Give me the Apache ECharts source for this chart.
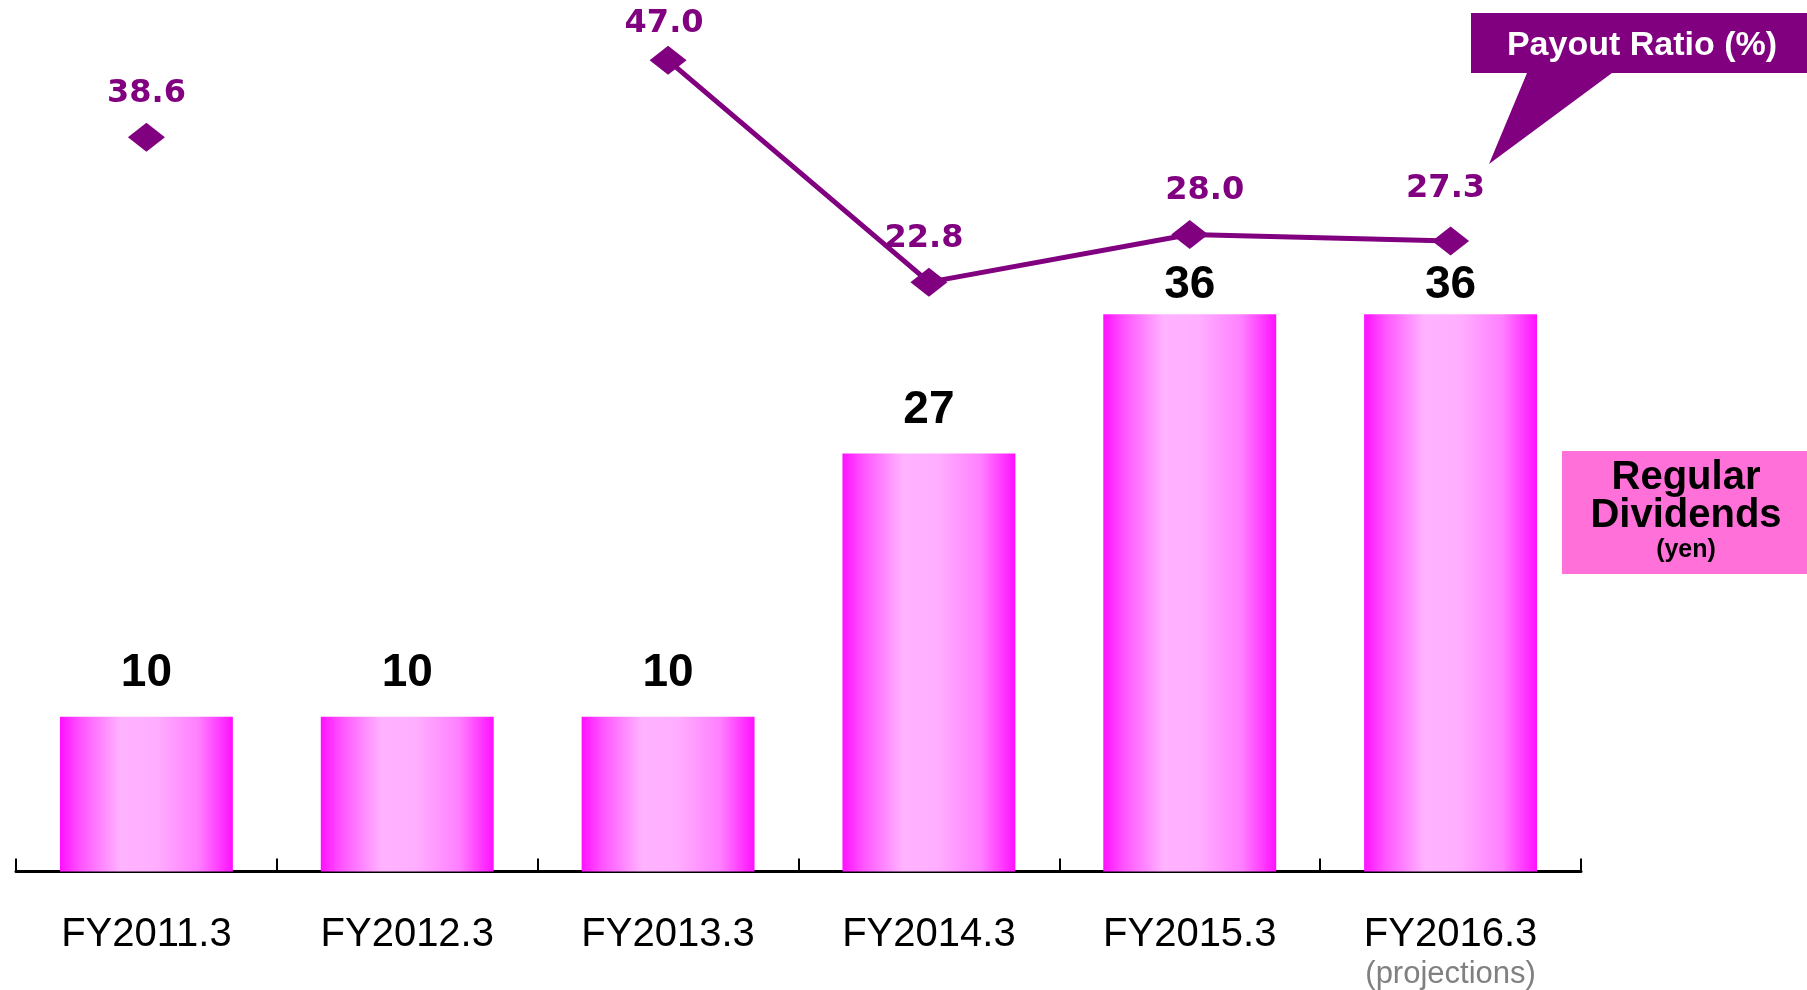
<!DOCTYPE html>
<html><head><meta charset="utf-8">
<script src="https://cdn.jsdelivr.net/npm/echarts@6/dist/echarts.min.js"></script>
<style>html,body{margin:0;padding:0;background:#fff}#c{width:1807px;height:990px}</style>
</head><body><div id="c"></div>
<script>
// ---- data ----
const categories = ['FY2011.3', 'FY2012.3', 'FY2013.3', 'FY2014.3', 'FY2015.3', 'FY2016.3'];
const categoryNotes = ['', '', '', '', '', '(projections)'];
const dividends = [10, 10, 10, 27, 36, 36];               // Regular Dividends (yen)
const payoutRatio = [38.6, null, 47.0, 22.8, 28.0, 27.3]; // Payout Ratio (%)

// ---- label styling (not data) ----
const barLabelGap = [20, 20, 20, 20, 6, 6];
const ratioLabelGap = [13, 13, 6, 13, 13, 22];
const ratioLabelShift = [0, 0, -4, -5, 15, -5];
const FONT = "'Liberation Sans', Arial, sans-serif";

const chart = echarts.init(document.getElementById('c'), null, {renderer: 'canvas'});

const barGradient = new echarts.graphic.LinearGradient(0, 0, 1, 0, [
  {offset: 0, color: '#FF0FFF'},
  {offset: 0.12, color: '#FF55FF'},
  {offset: 0.35, color: '#FFB3FF'},
  {offset: 0.55, color: '#FFAEFF'},
  {offset: 0.8, color: '#FF80FF'},
  {offset: 1, color: '#FF10FF'}
]);

const barData = dividends.map((v, i) => ({value: v, label: {distance: barLabelGap[i]}}));
const lineData = payoutRatio.map((v, i) => ({value: v, label: {distance: ratioLabelGap[i], offset: [ratioLabelShift[i], 0]}}));

chart.setOption({
  animation: false,
  backgroundColor: '#fff',
  grid: {left: 16, right: 226, top: 20, bottom: 116, containLabel: false},
  xAxis: {
    type: 'category',
    data: categories,
    axisLine: {show: true, lineStyle: {color: '#000', width: 3}},
    axisTick: {show: true, inside: true, length: 13, interval: 0, lineStyle: {color: '#000', width: 2}},
    axisLabel: {
      margin: 43,
      interval: 0,
      formatter: (v, i) => categoryNotes[i] ? '{a|' + v + '}\n{b|' + categoryNotes[i] + '}' : '{a|' + v + '}',
      rich: {
        a: {fontFamily: FONT, fontSize: 40, color: '#000', lineHeight: 40},
        b: {fontFamily: FONT, fontSize: 31, color: '#808080', lineHeight: 40}
      }
    }
  },
  yAxis: [
    {type: 'value', min: 0, max: 55, show: false},
    {type: 'value', min: -41.5, max: 51.4, show: false}
  ],
  series: [
    {
      type: 'bar',
      yAxisIndex: 0,
      barWidth: '66.3%',
      data: barData,
      itemStyle: {color: barGradient},
      label: {
        show: true, position: 'top',
        fontFamily: FONT, fontWeight: 'bold', fontSize: 46, color: '#000'
      },
      z: 2
    },
    {
      type: 'line',
      yAxisIndex: 1,
      data: lineData,
      connectNulls: false,
      symbol: 'diamond',
      symbolSize: [37, 29],
      lineStyle: {color: '#800080', width: 5},
      itemStyle: {color: '#800080'},
      label: {
        show: true, position: 'top',
        fontFamily: "'DejaVu Sans', sans-serif", fontWeight: 'bold', fontSize: 32, color: '#800080',
        formatter: p => (p.value == null ? '' : Number(p.value).toFixed(1))
      },
      z: 5
    }
  ],
  graphic: [
    {
      type: 'polygon',
      shape: {points: [[1471, 13], [1807, 13], [1807, 73], [1612, 73], [1489, 164], [1527, 73], [1471, 73]]},
      style: {fill: '#800080'}
    },
    {
      type: 'text', x: 1642, y: 46,
      style: {text: 'Payout Ratio (%)', fill: '#fff', font: "bold 34px 'Liberation Sans', Arial, sans-serif", align: 'center', verticalAlign: 'middle'}
    },
    {
      type: 'rect', shape: {x: 1562, y: 451, width: 245, height: 123},
      style: {fill: '#FF70D8'}
    },
    {
      type: 'text', x: 1686, y: 478,
      style: {text: 'Regular', fill: '#000', font: "bold 40px 'Liberation Sans', Arial, sans-serif", align: 'center', verticalAlign: 'middle'}
    },
    {
      type: 'text', x: 1686, y: 516,
      style: {text: 'Dividends', fill: '#000', font: "bold 40px 'Liberation Sans', Arial, sans-serif", align: 'center', verticalAlign: 'middle'}
    },
    {
      type: 'text', x: 1686, y: 550,
      style: {text: '(yen)', fill: '#000', font: "bold 25px 'Liberation Sans', Arial, sans-serif", align: 'center', verticalAlign: 'middle'}
    }
  ]
});
</script>
</body></html>
